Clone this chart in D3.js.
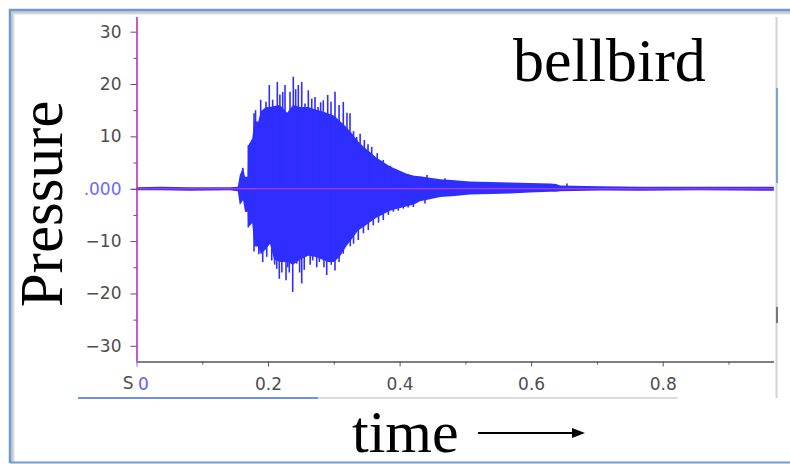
<!DOCTYPE html>
<html lang="en">
<head>
<meta charset="UTF-8" />
<title>bellbird</title>
<script src="https://d3js.org/d3.v7.min.js"></script>
<style>
  body { margin: 0; background: #fff; }
  svg { display: block; }
  .tick text { font-family: "DejaVu Sans", sans-serif; font-size: 17px; fill: #4d4d4d; }
  .big { font-family: "Liberation Serif", "Times New Roman", serif; fill: #000; }
</style>
</head>
<body>
<svg id="chart" width="790" height="464"></svg>
<script>
// envelope of the recording (time in s, pressure)
const envTime = [0.000, 0.036, 0.081, 0.142, 0.154, 0.157, 0.162, 0.165, 0.169, 0.170,
  0.176, 0.179, 0.185, 0.189, 0.197, 0.203, 0.209, 0.218, 0.229, 0.238,
  0.249, 0.261, 0.271, 0.282, 0.291, 0.300, 0.309, 0.319, 0.328, 0.337,
  0.346, 0.355, 0.364, 0.373, 0.385, 0.398, 0.410, 0.422, 0.431, 0.446,
  0.462, 0.484, 0.507, 0.538, 0.568, 0.598, 0.629, 0.638, 0.644, 0.705,
  0.766, 0.857, 0.969];
const envHigh = [0.3, 0.4, 0.3, 0.3, 0.4, 2.6, 4.0, 2.3, 2.3, 8.3,
  9.6, 13.0, 12.8, 14.8, 15.6, 15.6, 15.8, 16.0, 14.5, 16.0,
  15.6, 15.6, 15.2, 14.8, 14.4, 14.0, 13.0, 11.8, 10.5, 9.0,
  7.9, 7.0, 6.0, 5.3, 4.3, 3.6, 2.9, 2.5, 2.4, 2.1,
  1.8, 1.6, 1.4, 1.3, 1.2, 1.1, 1.0, 0.9, 0.6, 0.45,
  0.4, 0.4, 0.4];
const envLow = [-0.3, -0.3, -0.4, -0.3, -0.5, -3.1, -2.2, -4.4, -4.4, -7.3,
  -6.6, -11.0, -11.1, -12.5, -11.5, -10.5, -13.5, -14.0, -14.0, -14.5,
  -13.5, -12.8, -13.0, -13.5, -14.0, -14.0, -13.0, -11.0, -9.5, -8.0,
  -7.2, -6.4, -5.6, -5.0, -4.2, -3.8, -3.4, -3.0, -2.4, -2.0,
  -1.6, -1.4, -1.1, -1.0, -0.9, -0.7, -0.6, -0.6, -0.5, -0.35,
  -0.4, -0.3, -0.4];

// individual peaks that stick out of the envelope
const peakUpTime = [0.1615, 0.1700, 0.1787, 0.1810, 0.1888, 0.1969, 0.2019, 0.2070, 0.2141, 0.2180,
  0.2223, 0.2258, 0.2334, 0.2384, 0.2420, 0.2460, 0.2512, 0.2562, 0.2612, 0.2664,
  0.2714, 0.2760, 0.2800, 0.2840, 0.2907, 0.2957, 0.3018, 0.3080, 0.3144, 0.3200,
  0.3246, 0.3300, 0.3348, 0.3400, 0.3464, 0.3520, 0.3576, 0.3660, 0.3752, 0.3860,
  0.3956, 0.4128, 0.4417, 0.4690, 0.6545];
const peakUpValue = [4.0, 8.3, 14.4, 15.0, 17.0, 16.6, 19.8, 17.0, 20.4, 18.0,
  18.5, 19.8, 18.5, 21.4, 19.0, 19.8, 20.4, 16.3, 18.8, 17.2,
  17.5, 15.6, 16.5, 16.9, 17.9, 16.6, 18.5, 16.0, 16.6, 14.5,
  14.4, 11.0, 9.9, 10.5, 9.3, 8.5, 8.0, 6.8, 5.5, 4.4,
  3.5, 2.6, 2.6, 2.0, 1.0];
const peakDownTime = [0.1665, 0.1700, 0.1787, 0.1860, 0.1919, 0.1980, 0.2056, 0.2100, 0.2132, 0.2171,
  0.2210, 0.2273, 0.2300, 0.2323, 0.2375, 0.2436, 0.2480, 0.2512, 0.2550, 0.2592,
  0.2640, 0.2679, 0.2740, 0.2780, 0.2816, 0.2850, 0.2892, 0.2960, 0.3018, 0.3080,
  0.3144, 0.3196, 0.3250, 0.3300, 0.3372, 0.3450, 0.3524, 0.3600, 0.3680, 0.3752,
  0.3830, 0.3905, 0.3980, 0.4057, 0.4130, 0.4209, 0.4386];
const peakDownValue = [-4.4, -7.4, -12.0, -12.5, -14.0, -13.0, -13.7, -14.5, -15.3, -17.2,
  -16.0, -17.5, -15.0, -16.0, -19.7, -14.3, -16.0, -18.1, -15.5, -12.5,
  -14.5, -13.7, -15.0, -14.0, -13.0, -15.0, -16.5, -14.5, -15.6, -14.0,
  -12.4, -10.2, -11.0, -10.5, -9.8, -8.5, -7.9, -7.0, -6.5, -6.0,
  -5.0, -4.4, -4.2, -3.8, -3.6, -3.5, -2.8];

const yTicks = [-30, -25, -20, -15, -10, -5, 0, 5, 10, 15, 20, 25, 30];
const xTicks = [0, 0.1, 0.2, 0.3, 0.4, 0.5, 0.6, 0.7, 0.8, 0.9];

const svg = d3.select("#chart");
const blue = "#2e2eff";

const x = d3.scaleLinear().domain([0, 0.97]).range([136.5, 774.5]);
const y = d3.scaleLinear().domain([-33, 32.8]).range([361.5, 17]);

// outer frame with soft inner shadow
const frame = svg.append("g");
[["#e6e6e6", 4], ["#d4d4d4", 3], ["#c4c4c4", 2]].forEach(([c, o]) => {
    frame.append("path").attr("d", `M${10 + o},462 V${10 + o} H790`)
        .attr("fill", "none").attr("stroke", c).attr("stroke-width", 1.5);
});
frame.append("path").attr("d", "M10,463 V10 H792")
    .attr("fill", "none").attr("stroke", "#6f9bd2").attr("stroke-width", 2.5);
frame.append("line").attr("x1", 10).attr("x2", 790).attr("y1", 462.5).attr("y2", 462.5)
    .attr("stroke", "#6f9bd2").attr("stroke-width", 2);

// scroll bars of the original window
svg.append("line").attr("x1", 776.5).attr("x2", 776.5).attr("y1", 17).attr("y2", 398)
    .attr("stroke", "#d2d2d2").attr("stroke-width", 2);
svg.append("line").attr("x1", 777).attr("x2", 777).attr("y1", 88).attr("y2", 183)
    .attr("stroke", "#7aa0da").attr("stroke-width", 2);
svg.append("line").attr("x1", 777).attr("x2", 777).attr("y1", 307).attr("y2", 323)
    .attr("stroke", "#777").attr("stroke-width", 2);
svg.append("line").attr("x1", 318).attr("x2", 678).attr("y1", 398).attr("y2", 398)
    .attr("stroke", "#d0d0d0").attr("stroke-width", 1.5);
svg.append("line").attr("x1", 78).attr("x2", 318).attr("y1", 398).attr("y2", 398)
    .attr("stroke", "#6f92e0").attr("stroke-width", 2);

// waveform body
const env = envTime.map((t, i) => ({ t, hi: envHigh[i], lo: envLow[i] }));
svg.append("path")
    .datum(env)
    .attr("fill", blue)
    .attr("d", d3.area().x(d => x(d.t)).y0(d => y(d.lo)).y1(d => y(d.hi)));

const peaks = peakUpTime.map((t, i) => ({ t, v: peakUpValue[i] }))
    .concat(peakDownTime.map((t, i) => ({ t, v: peakDownValue[i] })));
svg.append("g").selectAll("line")
    .data(peaks)
    .join("line")
    .attr("x1", d => x(d.t)).attr("x2", d => x(d.t))
    .attr("y1", y(0)).attr("y2", d => y(d.v))
    .attr("stroke", blue).attr("stroke-width", 1.6);

// zero line
svg.append("line").attr("x1", x(0)).attr("x2", 774).attr("y1", y(0)).attr("y2", y(0))
    .attr("stroke", "#d43ccf").attr("stroke-width", 1.2);

// x axis
const xAxis = svg.append("g")
    .attr("transform", `translate(0,${y.range()[0]})`)
    .call(d3.axisBottom(x).tickValues(xTicks).tickSizeOuter(0).tickPadding(10)
        .tickFormat(d => [0.2, 0.4, 0.6, 0.8].includes(d) ? d3.format(".1f")(d) : (d === 0 ? "0" : "")));
xAxis.select(".domain").attr("stroke", "#555").attr("stroke-width", 1.3).attr("d", `M${x(0)},0.5H774`);
xAxis.selectAll(".tick line").attr("stroke", "#555")
    .attr("y2", d => [0.2, 0.4, 0.6, 0.8].includes(d) ? 5 : 3);
xAxis.selectAll(".tick").filter(d => d === 0).select("line").attr("stroke", "#6a6aff").attr("y2", 5);
xAxis.selectAll(".tick").filter(d => d === 0).select("text")
    .attr("text-anchor", "start").attr("x", 1).style("fill", "#5d5dff");
xAxis.append("text").attr("x", x(0) - 3).attr("y", 15).attr("dy", "0.71em")
    .attr("text-anchor", "end").style("font-family", "DejaVu Sans, sans-serif")
    .style("font-size", "17px").style("fill", "#4d4d4d").text("S");

// y axis
const yAxis = svg.append("g")
    .attr("transform", `translate(${x(0)},0)`)
    .call(d3.axisLeft(y).tickValues(yTicks).tickSizeOuter(0).tickPadding(9)
        .tickFormat(d => d === 0 ? ".000" : (d % 10 === 0 ? d3.format("d")(d).replace("-", "\u2212") : "")));
yAxis.select(".domain").attr("stroke", "#c42bc4").attr("stroke-width", 1.6).attr("d", "M0.5,17V361.5");
yAxis.selectAll(".tick line").attr("stroke", "#555")
    .attr("x2", d => d % 10 === 0 ? -6 : -3);
yAxis.selectAll(".tick").filter(d => d === 0).select("line").attr("stroke", "#22226a");
yAxis.selectAll(".tick").filter(d => d === 0).select("text").style("fill", "#6a6aff");

// big labels
svg.append("text").attr("class", "big")
    .attr("transform", "translate(62,204) rotate(-90)")
    .attr("text-anchor", "middle").style("font-size", "61px").text("Pressure");
svg.append("text").attr("class", "big")
    .attr("x", 513).attr("y", 81).style("font-size", "62px").text("bellbird");
svg.append("text").attr("class", "big")
    .attr("x", 352).attr("y", 452).style("font-size", "60px").text("time");

// arrow after the time label
svg.append("line").attr("x1", 478).attr("x2", 574).attr("y1", 433).attr("y2", 433)
    .attr("stroke", "#000").attr("stroke-width", 2);
svg.append("path").attr("d", "M572,428 L585,433 L572,438 Z").attr("fill", "#000");
</script>
</body>
</html>
